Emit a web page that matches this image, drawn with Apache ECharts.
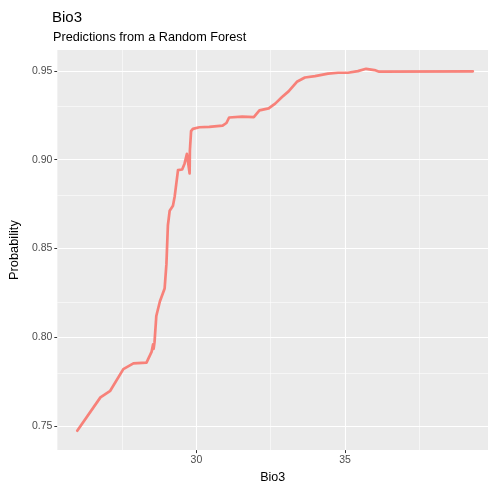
<!DOCTYPE html>
<html>
<head>
<meta charset="utf-8">
<script src="https://cdn.jsdelivr.net/npm/echarts@6/dist/echarts.min.js"></script>
<style>html,body{margin:0;padding:0;background:#fff}#c{width:488px;height:489px}</style>
</head>
<body>
<div id="c"></div>
<script>
const bio3 = [25.99, 26.77, 27.10, 27.54, 27.88, 28.32, 28.49, 28.54, 28.56, 28.59, 28.61, 28.65, 28.77, 28.93, 28.99, 29.04, 29.10, 29.21, 29.27, 29.38, 29.52, 29.60, 29.68, 29.71, 29.77, 29.78, 29.82, 29.88, 30.10, 30.43, 30.88, 31.01, 31.10, 31.54, 31.93, 32.12, 32.43, 32.65, 32.88, 33.10, 33.38, 33.65, 33.99, 34.43, 34.77, 35.10, 35.43, 35.71, 35.99, 36.15, 39.30];
const probability = [0.7474, 0.7662, 0.7699, 0.7821, 0.7853, 0.7858, 0.7918, 0.7960, 0.7935, 0.7973, 0.7980, 0.8120, 0.8202, 0.8275, 0.8412, 0.8631, 0.8713, 0.8741, 0.8795, 0.8942, 0.8945, 0.8978, 0.9033, 0.9042, 0.8923, 0.9052, 0.9161, 0.9174, 0.9183, 0.9185, 0.9192, 0.9207, 0.9238, 0.9243, 0.9240, 0.9278, 0.9289, 0.9316, 0.9353, 0.9385, 0.9439, 0.9463, 0.9471, 0.9485, 0.9490, 0.9490, 0.9499, 0.9512, 0.9505, 0.9496, 0.9498];
const xMajorTicks = [30, 35];
const xMinorTicks = [27.5, 32.5, 37.5];
const yMajorTicks = [0.75, 0.80, 0.85, 0.90, 0.95];
const yMinorTicks = [0.775, 0.825, 0.875, 0.925];

const FONT = 'Liberation Sans, Arial, Helvetica, sans-serif';
const chart = echarts.init(document.getElementById('c'), null, {renderer: 'canvas'});
const major = {color: '#FFFFFF', width: 1.1, type: 'solid'};
const minor = {color: '#FFFFFF', width: 0.55, type: 'solid'};
const gridLines = []
  .concat(xMinorTicks.map(v => ({xAxis: v, lineStyle: minor})))
  .concat(yMinorTicks.map(v => ({yAxis: v, lineStyle: minor})))
  .concat(xMajorTicks.map(v => ({xAxis: v, lineStyle: major})))
  .concat(yMajorTicks.map(v => ({yAxis: v, lineStyle: major})));

chart.setOption({
  animation: false,
  backgroundColor: '#FFFFFF',
  title: [
    {text: 'Bio3', left: 52, top: 10, padding: 0,
     textStyle: {fontFamily: FONT, fontSize: 15, fontWeight: 'normal', color: '#000000'}},
    {text: 'Predictions from a Random Forest', left: 53, top: 31, padding: 0,
     textStyle: {fontFamily: FONT, fontSize: 12.7, fontWeight: 'normal', color: '#000000'}}
  ],
  grid: {left: 53, top: 50, right: 0, bottom: 28, show: true, backgroundColor: '#EBEBEB', borderWidth: 0, containLabel: false},
  xAxis: {
    type: 'value', min: 25.32, max: 39.81,
    name: 'Bio3', nameLocation: 'middle', nameGap: 17,
    nameTextStyle: {fontFamily: FONT, fontSize: 12.5, color: '#000000'},
    axisLine: {show: false},
    axisTick: {show: true, customValues: xMajorTicks, length: 3, lineStyle: {color: '#333333', width: 1}},
    axisLabel: {customValues: xMajorTicks, margin: 5, fontFamily: FONT, fontSize: 10.5, color: '#4D4D4D', formatter: v => String(v)},
    splitLine: {show: false}
  },
  yAxis: {
    type: 'value', min: 0.7365, max: 0.9618,
    name: 'Probability', nameLocation: 'middle', nameGap: 31, nameRotate: 90,
    nameTextStyle: {fontFamily: FONT, fontSize: 12.8, color: '#000000'},
    axisLine: {show: false},
    axisTick: {show: true, customValues: yMajorTicks, length: 3, lineStyle: {color: '#333333', width: 1}},
    axisLabel: {customValues: yMajorTicks, margin: 5, fontFamily: FONT, fontSize: 10.5, color: '#4D4D4D', formatter: v => v.toFixed(2)},
    splitLine: {show: false}
  },
  series: [{
    type: 'line',
    data: bio3.map((x, i) => [x, probability[i]]),
    showSymbol: false,
    symbol: 'none',
    z: 3,
    lineStyle: {color: '#F8766D', width: 2.7, opacity: 0.9, join: 'round', cap: 'round'},
    markLine: {silent: true, symbol: 'none', z: 1, animation: false, label: {show: false}, emphasis: {disabled: true}, data: gridLines}
  }]
});
</script>
</body>
</html>
